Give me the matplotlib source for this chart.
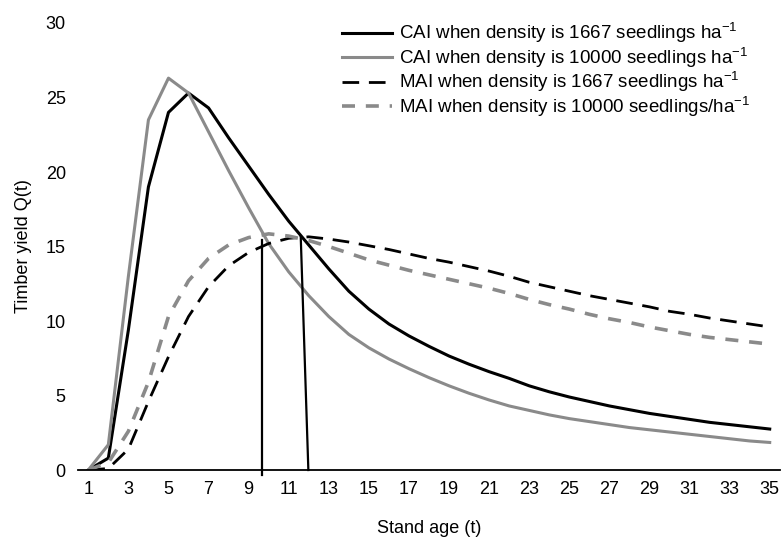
# -*- coding: utf-8 -*-
# CAI / MAI curves of timber yield for two planting densities

import matplotlib
matplotlib.use('Agg')
import matplotlib.pyplot as plt

stand_age = list(range(1, 36))

# current annual increment (solid lines)
cai_1667 = [0, 0.8, 9.4, 19.0, 24.0, 25.3, 24.3, 22.3, 20.4, 18.5,
            16.7, 15.1, 13.5, 12.0, 10.8, 9.8, 9.0, 8.3, 7.65, 7.1,
            6.6, 6.15, 5.65, 5.25, 4.9, 4.6, 4.3, 4.05, 3.8, 3.6,
            3.4, 3.2, 3.05, 2.9, 2.75]
cai_10000 = [0, 1.7, 13.0, 23.5, 26.3, 25.3, 22.7, 20.1, 17.6, 15.2,
             13.3, 11.7, 10.3, 9.1, 8.2, 7.45, 6.8, 6.2, 5.65, 5.15,
             4.7, 4.3, 4.0, 3.7, 3.45, 3.25, 3.05, 2.85, 2.7, 2.55,
             2.4, 2.25, 2.1, 1.95, 1.85]
# mean annual increment (dashed lines)
mai_1667 = [0, 0.1, 1.4, 4.6, 7.6, 10.3, 12.3, 13.7, 14.6, 15.2,
            15.55, 15.65, 15.5, 15.3, 15.05, 14.8, 14.5, 14.2, 13.95, 13.65,
            13.35, 13.0, 12.6, 12.3, 12.0, 11.7, 11.45, 11.2, 10.95, 10.65,
            10.45, 10.2, 10.0, 9.8, 9.6]
mai_10000 = [0, 0.5, 2.6, 5.9, 10.3, 12.7, 14.2, 15.1, 15.6, 15.85,
             15.7, 15.4, 15.0, 14.55, 14.1, 13.75, 13.4, 13.1, 12.8, 12.5,
             12.2, 11.85, 11.45, 11.1, 10.8, 10.45, 10.15, 9.9, 9.6, 9.35,
             9.1, 8.9, 8.75, 8.6, 8.45]

# drop lines from the CAI/MAI crossing points down to the axis
drop_x_bottom = [9.68, 11.98]
drop_x_top = [9.68, 11.6]
drop_y_bottom = [-0.35, 0]
drop_y_top = [15.45, 15.65]

labels = ['CAI when density is 1667 seedlings ha$^{-1}$',
          'CAI when density is 10000 seedlings ha$^{-1}$',
          'MAI when density is 1667 seedlings ha$^{-1}$',
          'MAI when density is 10000 seedlings/ha$^{-1}$']

plt.rcParams['font.family'] = ['Liberation Sans', 'DejaVu Sans']
plt.rcParams['mathtext.fontset'] = 'custom'
plt.rcParams['mathtext.rm'] = 'Liberation Sans'
plt.rcParams['mathtext.it'] = 'Liberation Sans'

gray = '#8a8a8a'
fs = 13

fig = plt.figure(figsize=(7.82, 5.41), dpi=100)
ax = fig.add_axes([0.1001, 0.1312, 0.897, 0.8263])

ax.plot(stand_age, cai_1667, color='black', lw=2.2, label=labels[0])
ax.plot(stand_age, cai_10000, color=gray, lw=2.2, label=labels[1])
ax.plot(stand_age, mai_1667, color='black', lw=2.0, dashes=(6, 3.5), label=labels[2])
ax.plot(stand_age, mai_10000, color=gray, lw=2.6, dashes=(3.6, 3), label=labels[3])

for i in range(len(drop_x_top)):
    ax.plot([drop_x_bottom[i], drop_x_top[i]], [drop_y_bottom[i], drop_y_top[i]],
            color='black', lw=1.6, clip_on=False)

ax.set_xlim(0.5, 35.5)
ax.set_ylim(0, 30)
ax.set_xticks(range(1, 36, 2))
ax.set_yticks(range(0, 31, 5))

for s in ['top', 'right', 'left']:
    ax.spines[s].set_visible(False)
ax.spines['bottom'].set_linewidth(1.3)
ax.tick_params(axis='both', length=0, labelsize=fs)
ax.tick_params(axis='y', pad=9)
ax.tick_params(axis='x', pad=8)

ax.set_xlabel('Stand age (t)', fontsize=fs, labelpad=16)
ax.set_ylabel('Timber yield Q(t)', fontsize=fs, labelpad=10)

ax.legend(loc='upper left', bbox_to_anchor=(0.425, 0.978), bbox_transform=fig.transFigure,
          frameon=False, fontsize=13.5, handlelength=2.7, handletextpad=0.35,
          labelspacing=0.02, borderpad=0)

plt.savefig('out.png', dpi=100)
